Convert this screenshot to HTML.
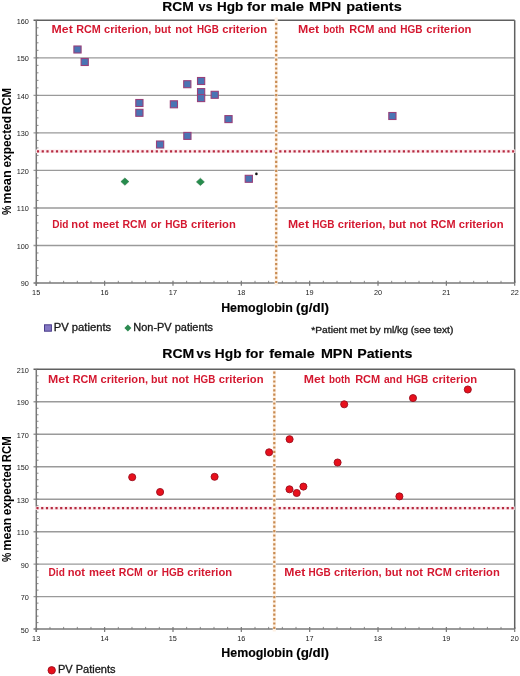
<!DOCTYPE html>
<html><head><meta charset="utf-8"><title>RCM vs Hgb</title>
<style>html,body{margin:0;padding:0;background:#fff;width:520px;height:676px;overflow:hidden}svg{display:block;filter:blur(0.3px)}</style>
</head><body>
<svg width="520" height="676" viewBox="0 0 520 676" font-family='"Liberation Sans", sans-serif' style="font-kerning:none">
<rect width="520" height="676" fill="#fff"/>
<line x1="33.50" y1="245.47" x2="514.70" y2="245.47" stroke="#9a9a9a" stroke-width="1.4"/>
<line x1="33.50" y1="207.94" x2="514.70" y2="207.94" stroke="#9a9a9a" stroke-width="1.4"/>
<line x1="33.50" y1="170.41" x2="514.70" y2="170.41" stroke="#9a9a9a" stroke-width="1.4"/>
<line x1="33.50" y1="132.89" x2="514.70" y2="132.89" stroke="#9a9a9a" stroke-width="1.4"/>
<line x1="33.50" y1="95.36" x2="514.70" y2="95.36" stroke="#9a9a9a" stroke-width="1.4"/>
<line x1="33.50" y1="57.83" x2="514.70" y2="57.83" stroke="#9a9a9a" stroke-width="1.4"/>
<line x1="36.30" y1="283.00" x2="38.50" y2="283.00" stroke="#8a8a8a" stroke-width="1"/>
<line x1="36.30" y1="275.49" x2="38.50" y2="275.49" stroke="#8a8a8a" stroke-width="1"/>
<line x1="36.30" y1="267.99" x2="38.50" y2="267.99" stroke="#8a8a8a" stroke-width="1"/>
<line x1="36.30" y1="260.48" x2="38.50" y2="260.48" stroke="#8a8a8a" stroke-width="1"/>
<line x1="36.30" y1="252.98" x2="38.50" y2="252.98" stroke="#8a8a8a" stroke-width="1"/>
<line x1="36.30" y1="245.47" x2="38.50" y2="245.47" stroke="#8a8a8a" stroke-width="1"/>
<line x1="36.30" y1="237.97" x2="38.50" y2="237.97" stroke="#8a8a8a" stroke-width="1"/>
<line x1="36.30" y1="230.46" x2="38.50" y2="230.46" stroke="#8a8a8a" stroke-width="1"/>
<line x1="36.30" y1="222.95" x2="38.50" y2="222.95" stroke="#8a8a8a" stroke-width="1"/>
<line x1="36.30" y1="215.45" x2="38.50" y2="215.45" stroke="#8a8a8a" stroke-width="1"/>
<line x1="36.30" y1="207.94" x2="38.50" y2="207.94" stroke="#8a8a8a" stroke-width="1"/>
<line x1="36.30" y1="200.44" x2="38.50" y2="200.44" stroke="#8a8a8a" stroke-width="1"/>
<line x1="36.30" y1="192.93" x2="38.50" y2="192.93" stroke="#8a8a8a" stroke-width="1"/>
<line x1="36.30" y1="185.43" x2="38.50" y2="185.43" stroke="#8a8a8a" stroke-width="1"/>
<line x1="36.30" y1="177.92" x2="38.50" y2="177.92" stroke="#8a8a8a" stroke-width="1"/>
<line x1="36.30" y1="170.41" x2="38.50" y2="170.41" stroke="#8a8a8a" stroke-width="1"/>
<line x1="36.30" y1="162.91" x2="38.50" y2="162.91" stroke="#8a8a8a" stroke-width="1"/>
<line x1="36.30" y1="155.40" x2="38.50" y2="155.40" stroke="#8a8a8a" stroke-width="1"/>
<line x1="36.30" y1="147.90" x2="38.50" y2="147.90" stroke="#8a8a8a" stroke-width="1"/>
<line x1="36.30" y1="140.39" x2="38.50" y2="140.39" stroke="#8a8a8a" stroke-width="1"/>
<line x1="36.30" y1="132.89" x2="38.50" y2="132.89" stroke="#8a8a8a" stroke-width="1"/>
<line x1="36.30" y1="125.38" x2="38.50" y2="125.38" stroke="#8a8a8a" stroke-width="1"/>
<line x1="36.30" y1="117.87" x2="38.50" y2="117.87" stroke="#8a8a8a" stroke-width="1"/>
<line x1="36.30" y1="110.37" x2="38.50" y2="110.37" stroke="#8a8a8a" stroke-width="1"/>
<line x1="36.30" y1="102.86" x2="38.50" y2="102.86" stroke="#8a8a8a" stroke-width="1"/>
<line x1="36.30" y1="95.36" x2="38.50" y2="95.36" stroke="#8a8a8a" stroke-width="1"/>
<line x1="36.30" y1="87.85" x2="38.50" y2="87.85" stroke="#8a8a8a" stroke-width="1"/>
<line x1="36.30" y1="80.35" x2="38.50" y2="80.35" stroke="#8a8a8a" stroke-width="1"/>
<line x1="36.30" y1="72.84" x2="38.50" y2="72.84" stroke="#8a8a8a" stroke-width="1"/>
<line x1="36.30" y1="65.33" x2="38.50" y2="65.33" stroke="#8a8a8a" stroke-width="1"/>
<line x1="36.30" y1="57.83" x2="38.50" y2="57.83" stroke="#8a8a8a" stroke-width="1"/>
<line x1="36.30" y1="50.32" x2="38.50" y2="50.32" stroke="#8a8a8a" stroke-width="1"/>
<line x1="36.30" y1="42.82" x2="38.50" y2="42.82" stroke="#8a8a8a" stroke-width="1"/>
<line x1="36.30" y1="35.31" x2="38.50" y2="35.31" stroke="#8a8a8a" stroke-width="1"/>
<line x1="36.30" y1="27.81" x2="38.50" y2="27.81" stroke="#8a8a8a" stroke-width="1"/>
<line x1="36.30" y1="20.30" x2="38.50" y2="20.30" stroke="#8a8a8a" stroke-width="1"/>
<line x1="36.30" y1="280.80" x2="36.30" y2="285.80" stroke="#787878" stroke-width="1.2"/>
<line x1="49.97" y1="280.80" x2="49.97" y2="283.00" stroke="#8a8a8a" stroke-width="1"/>
<line x1="63.64" y1="280.80" x2="63.64" y2="283.00" stroke="#8a8a8a" stroke-width="1"/>
<line x1="77.31" y1="280.80" x2="77.31" y2="283.00" stroke="#8a8a8a" stroke-width="1"/>
<line x1="90.97" y1="280.80" x2="90.97" y2="283.00" stroke="#8a8a8a" stroke-width="1"/>
<line x1="104.64" y1="280.80" x2="104.64" y2="285.80" stroke="#787878" stroke-width="1.2"/>
<line x1="118.31" y1="280.80" x2="118.31" y2="283.00" stroke="#8a8a8a" stroke-width="1"/>
<line x1="131.98" y1="280.80" x2="131.98" y2="283.00" stroke="#8a8a8a" stroke-width="1"/>
<line x1="145.65" y1="280.80" x2="145.65" y2="283.00" stroke="#8a8a8a" stroke-width="1"/>
<line x1="159.32" y1="280.80" x2="159.32" y2="283.00" stroke="#8a8a8a" stroke-width="1"/>
<line x1="172.99" y1="280.80" x2="172.99" y2="285.80" stroke="#787878" stroke-width="1.2"/>
<line x1="186.65" y1="280.80" x2="186.65" y2="283.00" stroke="#8a8a8a" stroke-width="1"/>
<line x1="200.32" y1="280.80" x2="200.32" y2="283.00" stroke="#8a8a8a" stroke-width="1"/>
<line x1="213.99" y1="280.80" x2="213.99" y2="283.00" stroke="#8a8a8a" stroke-width="1"/>
<line x1="227.66" y1="280.80" x2="227.66" y2="283.00" stroke="#8a8a8a" stroke-width="1"/>
<line x1="241.33" y1="280.80" x2="241.33" y2="285.80" stroke="#787878" stroke-width="1.2"/>
<line x1="255.00" y1="280.80" x2="255.00" y2="283.00" stroke="#8a8a8a" stroke-width="1"/>
<line x1="268.67" y1="280.80" x2="268.67" y2="283.00" stroke="#8a8a8a" stroke-width="1"/>
<line x1="282.33" y1="280.80" x2="282.33" y2="283.00" stroke="#8a8a8a" stroke-width="1"/>
<line x1="296.00" y1="280.80" x2="296.00" y2="283.00" stroke="#8a8a8a" stroke-width="1"/>
<line x1="309.67" y1="280.80" x2="309.67" y2="285.80" stroke="#787878" stroke-width="1.2"/>
<line x1="323.34" y1="280.80" x2="323.34" y2="283.00" stroke="#8a8a8a" stroke-width="1"/>
<line x1="337.01" y1="280.80" x2="337.01" y2="283.00" stroke="#8a8a8a" stroke-width="1"/>
<line x1="350.68" y1="280.80" x2="350.68" y2="283.00" stroke="#8a8a8a" stroke-width="1"/>
<line x1="364.35" y1="280.80" x2="364.35" y2="283.00" stroke="#8a8a8a" stroke-width="1"/>
<line x1="378.01" y1="280.80" x2="378.01" y2="285.80" stroke="#787878" stroke-width="1.2"/>
<line x1="391.68" y1="280.80" x2="391.68" y2="283.00" stroke="#8a8a8a" stroke-width="1"/>
<line x1="405.35" y1="280.80" x2="405.35" y2="283.00" stroke="#8a8a8a" stroke-width="1"/>
<line x1="419.02" y1="280.80" x2="419.02" y2="283.00" stroke="#8a8a8a" stroke-width="1"/>
<line x1="432.69" y1="280.80" x2="432.69" y2="283.00" stroke="#8a8a8a" stroke-width="1"/>
<line x1="446.36" y1="280.80" x2="446.36" y2="285.80" stroke="#787878" stroke-width="1.2"/>
<line x1="460.03" y1="280.80" x2="460.03" y2="283.00" stroke="#8a8a8a" stroke-width="1"/>
<line x1="473.69" y1="280.80" x2="473.69" y2="283.00" stroke="#8a8a8a" stroke-width="1"/>
<line x1="487.36" y1="280.80" x2="487.36" y2="283.00" stroke="#8a8a8a" stroke-width="1"/>
<line x1="501.03" y1="280.80" x2="501.03" y2="283.00" stroke="#8a8a8a" stroke-width="1"/>
<line x1="514.70" y1="280.80" x2="514.70" y2="285.80" stroke="#787878" stroke-width="1.2"/>
<line x1="33.50" y1="20.15" x2="514.70" y2="20.15" stroke="#606060" stroke-width="1.5"/>
<line x1="514.70" y1="20.30" x2="514.70" y2="283.00" stroke="#606060" stroke-width="1.5"/>
<line x1="33.50" y1="283.00" x2="514.70" y2="283.00" stroke="#787878" stroke-width="1.5"/>
<line x1="36.30" y1="20.30" x2="36.30" y2="285.80" stroke="#787878" stroke-width="1.5"/>
<text x="20.77" y="286.41" font-size="7.3" fill="#222">90</text>
<text x="16.71" y="248.88" font-size="7.3" fill="#222">100</text>
<text x="16.71" y="211.35" font-size="7.3" fill="#222">110</text>
<text x="16.71" y="173.83" font-size="7.3" fill="#222">120</text>
<text x="16.71" y="136.30" font-size="7.3" fill="#222">130</text>
<text x="16.71" y="98.77" font-size="7.3" fill="#222">140</text>
<text x="16.71" y="61.24" font-size="7.3" fill="#222">150</text>
<text x="16.71" y="23.71" font-size="7.3" fill="#222">160</text>
<text x="32.12" y="295.11" font-size="7.3" fill="#222">15</text>
<text x="100.47" y="295.11" font-size="7.3" fill="#222">16</text>
<text x="168.83" y="295.11" font-size="7.3" fill="#222">17</text>
<text x="237.15" y="295.11" font-size="7.3" fill="#222">18</text>
<text x="305.51" y="295.11" font-size="7.3" fill="#222">19</text>
<text x="373.91" y="295.11" font-size="7.3" fill="#222">20</text>
<text x="442.29" y="295.11" font-size="7.3" fill="#222">21</text>
<text x="510.64" y="295.11" font-size="7.3" fill="#222">22</text>
<text x="51.58" y="32.70" font-size="10.3" font-weight="bold" fill="#d41830" textLength="21.17" lengthAdjust="spacingAndGlyphs">Met</text>
<text x="76.18" y="32.70" font-size="10.3" font-weight="bold" fill="#d41830" textLength="24.65" lengthAdjust="spacingAndGlyphs">RCM</text>
<text x="103.97" y="32.70" font-size="10.3" font-weight="bold" fill="#d41830" textLength="47.48" lengthAdjust="spacingAndGlyphs">criterion,</text>
<text x="154.50" y="32.70" font-size="10.3" font-weight="bold" fill="#d41830" textLength="16.53" lengthAdjust="spacingAndGlyphs">but</text>
<text x="175.27" y="32.70" font-size="10.3" font-weight="bold" fill="#d41830" textLength="17.16" lengthAdjust="spacingAndGlyphs">not</text>
<text x="196.94" y="32.70" font-size="10.3" font-weight="bold" fill="#d41830" textLength="21.80" lengthAdjust="spacingAndGlyphs">HGB</text>
<text x="222.16" y="32.70" font-size="10.3" font-weight="bold" fill="#d41830" textLength="44.83" lengthAdjust="spacingAndGlyphs">criterion</text>
<text x="297.98" y="32.70" font-size="10.3" font-weight="bold" fill="#d41830" textLength="21.17" lengthAdjust="spacingAndGlyphs">Met</text>
<text x="323.15" y="32.70" font-size="10.3" font-weight="bold" fill="#d41830" textLength="21.26" lengthAdjust="spacingAndGlyphs">both</text>
<text x="349.36" y="32.70" font-size="10.3" font-weight="bold" fill="#d41830" textLength="25.07" lengthAdjust="spacingAndGlyphs">RCM</text>
<text x="378.10" y="32.70" font-size="10.3" font-weight="bold" fill="#d41830" textLength="18.28" lengthAdjust="spacingAndGlyphs">and</text>
<text x="400.33" y="32.70" font-size="10.3" font-weight="bold" fill="#d41830" textLength="22.22" lengthAdjust="spacingAndGlyphs">HGB</text>
<text x="426.36" y="32.70" font-size="10.3" font-weight="bold" fill="#d41830" textLength="45.04" lengthAdjust="spacingAndGlyphs">criterion</text>
<text x="52.23" y="227.90" font-size="10.3" font-weight="bold" fill="#d41830" textLength="16.24" lengthAdjust="spacingAndGlyphs">Did</text>
<text x="71.37" y="227.90" font-size="10.3" font-weight="bold" fill="#d41830" textLength="17.27" lengthAdjust="spacingAndGlyphs">not</text>
<text x="92.66" y="227.90" font-size="10.3" font-weight="bold" fill="#d41830" textLength="26.28" lengthAdjust="spacingAndGlyphs">meet</text>
<text x="122.49" y="227.90" font-size="10.3" font-weight="bold" fill="#d41830" textLength="24.01" lengthAdjust="spacingAndGlyphs">RCM</text>
<text x="150.68" y="227.90" font-size="10.3" font-weight="bold" fill="#d41830" textLength="10.68" lengthAdjust="spacingAndGlyphs">or</text>
<text x="165.33" y="227.90" font-size="10.3" font-weight="bold" fill="#d41830" textLength="22.22" lengthAdjust="spacingAndGlyphs">HGB</text>
<text x="190.96" y="227.90" font-size="10.3" font-weight="bold" fill="#d41830" textLength="44.83" lengthAdjust="spacingAndGlyphs">criterion</text>
<text x="287.99" y="227.90" font-size="10.3" font-weight="bold" fill="#d41830" textLength="20.96" lengthAdjust="spacingAndGlyphs">Met</text>
<text x="312.23" y="227.90" font-size="10.3" font-weight="bold" fill="#d41830" textLength="22.12" lengthAdjust="spacingAndGlyphs">HGB</text>
<text x="337.77" y="227.90" font-size="10.3" font-weight="bold" fill="#d41830" textLength="47.58" lengthAdjust="spacingAndGlyphs">criterion,</text>
<text x="388.67" y="227.90" font-size="10.3" font-weight="bold" fill="#d41830" textLength="17.27" lengthAdjust="spacingAndGlyphs">but</text>
<text x="409.57" y="227.90" font-size="10.3" font-weight="bold" fill="#d41830" textLength="17.16" lengthAdjust="spacingAndGlyphs">not</text>
<text x="430.67" y="227.90" font-size="10.3" font-weight="bold" fill="#d41830" textLength="24.86" lengthAdjust="spacingAndGlyphs">RCM</text>
<text x="458.66" y="227.90" font-size="10.3" font-weight="bold" fill="#d41830" textLength="44.83" lengthAdjust="spacingAndGlyphs">criterion</text>
<line x1="35.80" y1="151.30" x2="515.40" y2="151.30" stroke="#fcebee" stroke-width="3.6"/>
<line x1="36.90" y1="151.30" x2="514.30" y2="151.30" stroke="#b52a40" stroke-width="2.2" stroke-dasharray="2.2 2.552"/>
<line x1="276.20" y1="17.50" x2="276.20" y2="285.50" stroke="#fef1e4" stroke-width="3.2"/>
<line x1="276.20" y1="22.95" x2="276.20" y2="283.08" stroke="#c88a50" stroke-width="2.2" stroke-dasharray="2.2 2.247"/>
<rect x="73.90" y="46.00" width="7.2" height="7" fill="#4a74b4" stroke="#98407a" stroke-width="1.1"/>
<rect x="81.10" y="58.50" width="7.2" height="7" fill="#4a74b4" stroke="#98407a" stroke-width="1.1"/>
<rect x="135.80" y="99.50" width="7.2" height="7" fill="#4a74b4" stroke="#98407a" stroke-width="1.1"/>
<rect x="135.80" y="109.30" width="7.2" height="7" fill="#4a74b4" stroke="#98407a" stroke-width="1.1"/>
<rect x="170.30" y="100.80" width="7.2" height="7" fill="#4a74b4" stroke="#98407a" stroke-width="1.1"/>
<rect x="183.70" y="80.70" width="7.2" height="7" fill="#4a74b4" stroke="#98407a" stroke-width="1.1"/>
<rect x="197.50" y="77.50" width="7.2" height="7" fill="#4a74b4" stroke="#98407a" stroke-width="1.1"/>
<rect x="197.50" y="88.60" width="7.2" height="7" fill="#4a74b4" stroke="#98407a" stroke-width="1.1"/>
<rect x="197.50" y="94.60" width="7.2" height="7" fill="#4a74b4" stroke="#98407a" stroke-width="1.1"/>
<rect x="211.10" y="91.30" width="7.2" height="7" fill="#4a74b4" stroke="#98407a" stroke-width="1.1"/>
<rect x="224.90" y="115.60" width="7.2" height="7" fill="#4a74b4" stroke="#98407a" stroke-width="1.1"/>
<rect x="183.80" y="132.40" width="7.2" height="7" fill="#4a74b4" stroke="#98407a" stroke-width="1.1"/>
<rect x="156.50" y="141.00" width="7.2" height="7" fill="#4a74b4" stroke="#98407a" stroke-width="1.1"/>
<rect x="245.20" y="175.30" width="7.2" height="7" fill="#4a74b4" stroke="#98407a" stroke-width="1.1"/>
<rect x="388.80" y="112.50" width="7.2" height="7" fill="#4a74b4" stroke="#98407a" stroke-width="1.1"/>
<path d="M124.90 177.90 L128.90 181.60 L124.90 185.30 L120.90 181.60Z" fill="#268c4c" stroke="#1e6e3c" stroke-width="0.5"/>
<path d="M200.40 178.20 L204.40 181.90 L200.40 185.60 L196.40 181.90Z" fill="#268c4c" stroke="#1e6e3c" stroke-width="0.5"/>
<circle cx="256.4" cy="173.9" r="1.3" fill="#111"/>
<text x="162.28" y="10.90" font-size="13.4" font-weight="bold" fill="#000" textLength="31.45" lengthAdjust="spacingAndGlyphs" stroke="#000" stroke-width="0.15">RCM</text>
<text x="198.55" y="10.90" font-size="13.4" font-weight="bold" fill="#000" textLength="14.07" lengthAdjust="spacingAndGlyphs" stroke="#000" stroke-width="0.15">vs</text>
<text x="216.90" y="10.90" font-size="13.4" font-weight="bold" fill="#000" textLength="26.26" lengthAdjust="spacingAndGlyphs" stroke="#000" stroke-width="0.15">Hgb</text>
<text x="247.05" y="10.90" font-size="13.4" font-weight="bold" fill="#000" textLength="19.16" lengthAdjust="spacingAndGlyphs" stroke="#000" stroke-width="0.15">for</text>
<text x="270.33" y="10.90" font-size="13.4" font-weight="bold" fill="#000" textLength="33.68" lengthAdjust="spacingAndGlyphs" stroke="#000" stroke-width="0.15">male</text>
<text x="309.13" y="10.90" font-size="13.4" font-weight="bold" fill="#000" textLength="32.14" lengthAdjust="spacingAndGlyphs" stroke="#000" stroke-width="0.15">MPN</text>
<text x="346.25" y="10.90" font-size="13.4" font-weight="bold" fill="#000" textLength="55.45" lengthAdjust="spacingAndGlyphs" stroke="#000" stroke-width="0.15">patients</text>
<text transform="translate(10.90,0) rotate(-90)" x="-214.96" y="0" font-size="13" font-weight="bold" fill="#000" textLength="9.34" lengthAdjust="spacingAndGlyphs">%</text>
<text transform="translate(10.90,0) rotate(-90)" x="-203.64" y="0" font-size="13" font-weight="bold" fill="#000" textLength="33.44" lengthAdjust="spacingAndGlyphs">mean</text>
<text transform="translate(10.90,0) rotate(-90)" x="-167.56" y="0" font-size="13" font-weight="bold" fill="#000" textLength="51.55" lengthAdjust="spacingAndGlyphs">expected</text>
<text transform="translate(10.90,0) rotate(-90)" x="-114.17" y="0" font-size="13" font-weight="bold" fill="#000" textLength="26.24" lengthAdjust="spacingAndGlyphs">RCM</text>
<text x="221.17" y="312.30" font-size="12.3" font-weight="bold" fill="#000" textLength="71.70" lengthAdjust="spacingAndGlyphs" stroke="#000" stroke-width="0.15">Hemoglobin</text>
<text x="296.13" y="312.30" font-size="12.3" font-weight="bold" fill="#000" textLength="32.73" lengthAdjust="spacingAndGlyphs" stroke="#000" stroke-width="0.15">(g/dl)</text>
<rect x="44.5" y="324.8" width="6.9" height="6.4" fill="#8478c4" stroke="#4a3c8a" stroke-width="1"/>
<text x="53.68" y="330.80" font-size="10" fill="#1a1a1a" textLength="57.53" lengthAdjust="spacingAndGlyphs" stroke="#1a1a1a" stroke-width="0.3">PV patients</text>
<path d="M127.9 324.4 L131.4 327.9 L127.9 331.4 L124.4 327.9Z" fill="#2c8a50"/>
<text x="133.30" y="330.80" font-size="10" fill="#1a1a1a" textLength="79.79" lengthAdjust="spacingAndGlyphs" stroke="#1a1a1a" stroke-width="0.3">Non-PV patients</text>
<text x="311.34" y="332.60" font-size="8.8" fill="#1a1a1a" textLength="142.00" lengthAdjust="spacingAndGlyphs" stroke="#1a1a1a" stroke-width="0.3">*Patient met by ml/kg (see text)</text>
<line x1="33.50" y1="596.62" x2="514.70" y2="596.62" stroke="#9a9a9a" stroke-width="1.4"/>
<line x1="33.50" y1="564.15" x2="514.70" y2="564.15" stroke="#9a9a9a" stroke-width="1.4"/>
<line x1="33.50" y1="531.68" x2="514.70" y2="531.68" stroke="#9a9a9a" stroke-width="1.4"/>
<line x1="33.50" y1="499.20" x2="514.70" y2="499.20" stroke="#9a9a9a" stroke-width="1.4"/>
<line x1="33.50" y1="466.73" x2="514.70" y2="466.73" stroke="#9a9a9a" stroke-width="1.4"/>
<line x1="33.50" y1="434.25" x2="514.70" y2="434.25" stroke="#9a9a9a" stroke-width="1.4"/>
<line x1="33.50" y1="401.78" x2="514.70" y2="401.78" stroke="#9a9a9a" stroke-width="1.4"/>
<line x1="36.30" y1="629.10" x2="38.50" y2="629.10" stroke="#8a8a8a" stroke-width="1"/>
<line x1="36.30" y1="622.61" x2="38.50" y2="622.61" stroke="#8a8a8a" stroke-width="1"/>
<line x1="36.30" y1="616.11" x2="38.50" y2="616.11" stroke="#8a8a8a" stroke-width="1"/>
<line x1="36.30" y1="609.62" x2="38.50" y2="609.62" stroke="#8a8a8a" stroke-width="1"/>
<line x1="36.30" y1="603.12" x2="38.50" y2="603.12" stroke="#8a8a8a" stroke-width="1"/>
<line x1="36.30" y1="596.62" x2="38.50" y2="596.62" stroke="#8a8a8a" stroke-width="1"/>
<line x1="36.30" y1="590.13" x2="38.50" y2="590.13" stroke="#8a8a8a" stroke-width="1"/>
<line x1="36.30" y1="583.63" x2="38.50" y2="583.63" stroke="#8a8a8a" stroke-width="1"/>
<line x1="36.30" y1="577.14" x2="38.50" y2="577.14" stroke="#8a8a8a" stroke-width="1"/>
<line x1="36.30" y1="570.64" x2="38.50" y2="570.64" stroke="#8a8a8a" stroke-width="1"/>
<line x1="36.30" y1="564.15" x2="38.50" y2="564.15" stroke="#8a8a8a" stroke-width="1"/>
<line x1="36.30" y1="557.65" x2="38.50" y2="557.65" stroke="#8a8a8a" stroke-width="1"/>
<line x1="36.30" y1="551.16" x2="38.50" y2="551.16" stroke="#8a8a8a" stroke-width="1"/>
<line x1="36.30" y1="544.66" x2="38.50" y2="544.66" stroke="#8a8a8a" stroke-width="1"/>
<line x1="36.30" y1="538.17" x2="38.50" y2="538.17" stroke="#8a8a8a" stroke-width="1"/>
<line x1="36.30" y1="531.68" x2="38.50" y2="531.68" stroke="#8a8a8a" stroke-width="1"/>
<line x1="36.30" y1="525.18" x2="38.50" y2="525.18" stroke="#8a8a8a" stroke-width="1"/>
<line x1="36.30" y1="518.69" x2="38.50" y2="518.69" stroke="#8a8a8a" stroke-width="1"/>
<line x1="36.30" y1="512.19" x2="38.50" y2="512.19" stroke="#8a8a8a" stroke-width="1"/>
<line x1="36.30" y1="505.70" x2="38.50" y2="505.70" stroke="#8a8a8a" stroke-width="1"/>
<line x1="36.30" y1="499.20" x2="38.50" y2="499.20" stroke="#8a8a8a" stroke-width="1"/>
<line x1="36.30" y1="492.71" x2="38.50" y2="492.71" stroke="#8a8a8a" stroke-width="1"/>
<line x1="36.30" y1="486.21" x2="38.50" y2="486.21" stroke="#8a8a8a" stroke-width="1"/>
<line x1="36.30" y1="479.72" x2="38.50" y2="479.72" stroke="#8a8a8a" stroke-width="1"/>
<line x1="36.30" y1="473.22" x2="38.50" y2="473.22" stroke="#8a8a8a" stroke-width="1"/>
<line x1="36.30" y1="466.73" x2="38.50" y2="466.73" stroke="#8a8a8a" stroke-width="1"/>
<line x1="36.30" y1="460.23" x2="38.50" y2="460.23" stroke="#8a8a8a" stroke-width="1"/>
<line x1="36.30" y1="453.74" x2="38.50" y2="453.74" stroke="#8a8a8a" stroke-width="1"/>
<line x1="36.30" y1="447.24" x2="38.50" y2="447.24" stroke="#8a8a8a" stroke-width="1"/>
<line x1="36.30" y1="440.75" x2="38.50" y2="440.75" stroke="#8a8a8a" stroke-width="1"/>
<line x1="36.30" y1="434.25" x2="38.50" y2="434.25" stroke="#8a8a8a" stroke-width="1"/>
<line x1="36.30" y1="427.75" x2="38.50" y2="427.75" stroke="#8a8a8a" stroke-width="1"/>
<line x1="36.30" y1="421.26" x2="38.50" y2="421.26" stroke="#8a8a8a" stroke-width="1"/>
<line x1="36.30" y1="414.77" x2="38.50" y2="414.77" stroke="#8a8a8a" stroke-width="1"/>
<line x1="36.30" y1="408.27" x2="38.50" y2="408.27" stroke="#8a8a8a" stroke-width="1"/>
<line x1="36.30" y1="401.78" x2="38.50" y2="401.78" stroke="#8a8a8a" stroke-width="1"/>
<line x1="36.30" y1="395.28" x2="38.50" y2="395.28" stroke="#8a8a8a" stroke-width="1"/>
<line x1="36.30" y1="388.79" x2="38.50" y2="388.79" stroke="#8a8a8a" stroke-width="1"/>
<line x1="36.30" y1="382.29" x2="38.50" y2="382.29" stroke="#8a8a8a" stroke-width="1"/>
<line x1="36.30" y1="375.80" x2="38.50" y2="375.80" stroke="#8a8a8a" stroke-width="1"/>
<line x1="36.30" y1="369.30" x2="38.50" y2="369.30" stroke="#8a8a8a" stroke-width="1"/>
<line x1="36.30" y1="626.90" x2="36.30" y2="631.90" stroke="#787878" stroke-width="1.2"/>
<line x1="49.97" y1="626.90" x2="49.97" y2="629.10" stroke="#8a8a8a" stroke-width="1"/>
<line x1="63.64" y1="626.90" x2="63.64" y2="629.10" stroke="#8a8a8a" stroke-width="1"/>
<line x1="77.31" y1="626.90" x2="77.31" y2="629.10" stroke="#8a8a8a" stroke-width="1"/>
<line x1="90.97" y1="626.90" x2="90.97" y2="629.10" stroke="#8a8a8a" stroke-width="1"/>
<line x1="104.64" y1="626.90" x2="104.64" y2="631.90" stroke="#787878" stroke-width="1.2"/>
<line x1="118.31" y1="626.90" x2="118.31" y2="629.10" stroke="#8a8a8a" stroke-width="1"/>
<line x1="131.98" y1="626.90" x2="131.98" y2="629.10" stroke="#8a8a8a" stroke-width="1"/>
<line x1="145.65" y1="626.90" x2="145.65" y2="629.10" stroke="#8a8a8a" stroke-width="1"/>
<line x1="159.32" y1="626.90" x2="159.32" y2="629.10" stroke="#8a8a8a" stroke-width="1"/>
<line x1="172.99" y1="626.90" x2="172.99" y2="631.90" stroke="#787878" stroke-width="1.2"/>
<line x1="186.65" y1="626.90" x2="186.65" y2="629.10" stroke="#8a8a8a" stroke-width="1"/>
<line x1="200.32" y1="626.90" x2="200.32" y2="629.10" stroke="#8a8a8a" stroke-width="1"/>
<line x1="213.99" y1="626.90" x2="213.99" y2="629.10" stroke="#8a8a8a" stroke-width="1"/>
<line x1="227.66" y1="626.90" x2="227.66" y2="629.10" stroke="#8a8a8a" stroke-width="1"/>
<line x1="241.33" y1="626.90" x2="241.33" y2="631.90" stroke="#787878" stroke-width="1.2"/>
<line x1="255.00" y1="626.90" x2="255.00" y2="629.10" stroke="#8a8a8a" stroke-width="1"/>
<line x1="268.67" y1="626.90" x2="268.67" y2="629.10" stroke="#8a8a8a" stroke-width="1"/>
<line x1="282.33" y1="626.90" x2="282.33" y2="629.10" stroke="#8a8a8a" stroke-width="1"/>
<line x1="296.00" y1="626.90" x2="296.00" y2="629.10" stroke="#8a8a8a" stroke-width="1"/>
<line x1="309.67" y1="626.90" x2="309.67" y2="631.90" stroke="#787878" stroke-width="1.2"/>
<line x1="323.34" y1="626.90" x2="323.34" y2="629.10" stroke="#8a8a8a" stroke-width="1"/>
<line x1="337.01" y1="626.90" x2="337.01" y2="629.10" stroke="#8a8a8a" stroke-width="1"/>
<line x1="350.68" y1="626.90" x2="350.68" y2="629.10" stroke="#8a8a8a" stroke-width="1"/>
<line x1="364.35" y1="626.90" x2="364.35" y2="629.10" stroke="#8a8a8a" stroke-width="1"/>
<line x1="378.01" y1="626.90" x2="378.01" y2="631.90" stroke="#787878" stroke-width="1.2"/>
<line x1="391.68" y1="626.90" x2="391.68" y2="629.10" stroke="#8a8a8a" stroke-width="1"/>
<line x1="405.35" y1="626.90" x2="405.35" y2="629.10" stroke="#8a8a8a" stroke-width="1"/>
<line x1="419.02" y1="626.90" x2="419.02" y2="629.10" stroke="#8a8a8a" stroke-width="1"/>
<line x1="432.69" y1="626.90" x2="432.69" y2="629.10" stroke="#8a8a8a" stroke-width="1"/>
<line x1="446.36" y1="626.90" x2="446.36" y2="631.90" stroke="#787878" stroke-width="1.2"/>
<line x1="460.03" y1="626.90" x2="460.03" y2="629.10" stroke="#8a8a8a" stroke-width="1"/>
<line x1="473.69" y1="626.90" x2="473.69" y2="629.10" stroke="#8a8a8a" stroke-width="1"/>
<line x1="487.36" y1="626.90" x2="487.36" y2="629.10" stroke="#8a8a8a" stroke-width="1"/>
<line x1="501.03" y1="626.90" x2="501.03" y2="629.10" stroke="#8a8a8a" stroke-width="1"/>
<line x1="514.70" y1="626.90" x2="514.70" y2="631.90" stroke="#787878" stroke-width="1.2"/>
<line x1="33.50" y1="369.30" x2="514.70" y2="369.30" stroke="#606060" stroke-width="1.5"/>
<line x1="514.70" y1="369.30" x2="514.70" y2="629.10" stroke="#606060" stroke-width="1.5"/>
<line x1="33.50" y1="629.10" x2="514.70" y2="629.10" stroke="#787878" stroke-width="1.5"/>
<line x1="36.30" y1="369.30" x2="36.30" y2="631.90" stroke="#787878" stroke-width="1.5"/>
<text x="20.77" y="632.51" font-size="7.3" fill="#222">50</text>
<text x="20.77" y="600.04" font-size="7.3" fill="#222">70</text>
<text x="20.77" y="567.56" font-size="7.3" fill="#222">90</text>
<text x="16.71" y="535.09" font-size="7.3" fill="#222">110</text>
<text x="16.71" y="502.61" font-size="7.3" fill="#222">130</text>
<text x="16.71" y="470.14" font-size="7.3" fill="#222">150</text>
<text x="16.71" y="437.66" font-size="7.3" fill="#222">170</text>
<text x="16.71" y="405.19" font-size="7.3" fill="#222">190</text>
<text x="16.71" y="372.71" font-size="7.3" fill="#222">210</text>
<text x="32.12" y="641.11" font-size="7.3" fill="#222">13</text>
<text x="100.41" y="641.11" font-size="7.3" fill="#222">14</text>
<text x="168.80" y="641.11" font-size="7.3" fill="#222">15</text>
<text x="237.15" y="641.11" font-size="7.3" fill="#222">16</text>
<text x="305.52" y="641.11" font-size="7.3" fill="#222">17</text>
<text x="373.83" y="641.11" font-size="7.3" fill="#222">18</text>
<text x="442.19" y="641.11" font-size="7.3" fill="#222">19</text>
<text x="510.60" y="641.11" font-size="7.3" fill="#222">20</text>
<text x="48.13" y="383.30" font-size="10.3" font-weight="bold" fill="#d41830" textLength="21.17" lengthAdjust="spacingAndGlyphs">Met</text>
<text x="72.73" y="383.30" font-size="10.3" font-weight="bold" fill="#d41830" textLength="24.65" lengthAdjust="spacingAndGlyphs">RCM</text>
<text x="100.52" y="383.30" font-size="10.3" font-weight="bold" fill="#d41830" textLength="47.48" lengthAdjust="spacingAndGlyphs">criterion,</text>
<text x="151.05" y="383.30" font-size="10.3" font-weight="bold" fill="#d41830" textLength="16.53" lengthAdjust="spacingAndGlyphs">but</text>
<text x="171.82" y="383.30" font-size="10.3" font-weight="bold" fill="#d41830" textLength="17.16" lengthAdjust="spacingAndGlyphs">not</text>
<text x="193.49" y="383.30" font-size="10.3" font-weight="bold" fill="#d41830" textLength="21.80" lengthAdjust="spacingAndGlyphs">HGB</text>
<text x="218.71" y="383.30" font-size="10.3" font-weight="bold" fill="#d41830" textLength="44.83" lengthAdjust="spacingAndGlyphs">criterion</text>
<text x="303.78" y="383.30" font-size="10.3" font-weight="bold" fill="#d41830" textLength="21.17" lengthAdjust="spacingAndGlyphs">Met</text>
<text x="328.95" y="383.30" font-size="10.3" font-weight="bold" fill="#d41830" textLength="21.26" lengthAdjust="spacingAndGlyphs">both</text>
<text x="355.16" y="383.30" font-size="10.3" font-weight="bold" fill="#d41830" textLength="25.07" lengthAdjust="spacingAndGlyphs">RCM</text>
<text x="383.90" y="383.30" font-size="10.3" font-weight="bold" fill="#d41830" textLength="18.28" lengthAdjust="spacingAndGlyphs">and</text>
<text x="406.13" y="383.30" font-size="10.3" font-weight="bold" fill="#d41830" textLength="22.22" lengthAdjust="spacingAndGlyphs">HGB</text>
<text x="432.16" y="383.30" font-size="10.3" font-weight="bold" fill="#d41830" textLength="45.04" lengthAdjust="spacingAndGlyphs">criterion</text>
<text x="48.58" y="575.60" font-size="10.3" font-weight="bold" fill="#d41830" textLength="16.24" lengthAdjust="spacingAndGlyphs">Did</text>
<text x="67.72" y="575.60" font-size="10.3" font-weight="bold" fill="#d41830" textLength="17.27" lengthAdjust="spacingAndGlyphs">not</text>
<text x="89.01" y="575.60" font-size="10.3" font-weight="bold" fill="#d41830" textLength="26.28" lengthAdjust="spacingAndGlyphs">meet</text>
<text x="118.84" y="575.60" font-size="10.3" font-weight="bold" fill="#d41830" textLength="24.01" lengthAdjust="spacingAndGlyphs">RCM</text>
<text x="147.03" y="575.60" font-size="10.3" font-weight="bold" fill="#d41830" textLength="10.68" lengthAdjust="spacingAndGlyphs">or</text>
<text x="161.68" y="575.60" font-size="10.3" font-weight="bold" fill="#d41830" textLength="22.22" lengthAdjust="spacingAndGlyphs">HGB</text>
<text x="187.31" y="575.60" font-size="10.3" font-weight="bold" fill="#d41830" textLength="44.83" lengthAdjust="spacingAndGlyphs">criterion</text>
<text x="284.29" y="575.60" font-size="10.3" font-weight="bold" fill="#d41830" textLength="20.96" lengthAdjust="spacingAndGlyphs">Met</text>
<text x="308.53" y="575.60" font-size="10.3" font-weight="bold" fill="#d41830" textLength="22.12" lengthAdjust="spacingAndGlyphs">HGB</text>
<text x="334.07" y="575.60" font-size="10.3" font-weight="bold" fill="#d41830" textLength="47.58" lengthAdjust="spacingAndGlyphs">criterion,</text>
<text x="384.97" y="575.60" font-size="10.3" font-weight="bold" fill="#d41830" textLength="17.27" lengthAdjust="spacingAndGlyphs">but</text>
<text x="405.87" y="575.60" font-size="10.3" font-weight="bold" fill="#d41830" textLength="17.16" lengthAdjust="spacingAndGlyphs">not</text>
<text x="426.97" y="575.60" font-size="10.3" font-weight="bold" fill="#d41830" textLength="24.86" lengthAdjust="spacingAndGlyphs">RCM</text>
<text x="454.96" y="575.60" font-size="10.3" font-weight="bold" fill="#d41830" textLength="44.83" lengthAdjust="spacingAndGlyphs">criterion</text>
<line x1="35.30" y1="508.20" x2="514.70" y2="508.20" stroke="#fcebee" stroke-width="3.6"/>
<line x1="36.40" y1="508.20" x2="513.60" y2="508.20" stroke="#b52a40" stroke-width="2.2" stroke-dasharray="2.2 2.550"/>
<line x1="274.30" y1="370.60" x2="274.30" y2="631.50" stroke="#fef1e4" stroke-width="3.2"/>
<line x1="274.30" y1="371.60" x2="274.30" y2="629.00" stroke="#c88a50" stroke-width="2.2" stroke-dasharray="2.2 2.200"/>
<circle cx="132.20" cy="477.20" r="3.55" fill="#e8101c" stroke="#9c0f1e" stroke-width="0.9"/>
<circle cx="160.10" cy="492.00" r="3.55" fill="#e8101c" stroke="#9c0f1e" stroke-width="0.9"/>
<circle cx="214.60" cy="476.80" r="3.55" fill="#e8101c" stroke="#9c0f1e" stroke-width="0.9"/>
<circle cx="269.10" cy="452.30" r="3.55" fill="#e8101c" stroke="#9c0f1e" stroke-width="0.9"/>
<circle cx="289.60" cy="439.20" r="3.55" fill="#e8101c" stroke="#9c0f1e" stroke-width="0.9"/>
<circle cx="289.50" cy="489.30" r="3.55" fill="#e8101c" stroke="#9c0f1e" stroke-width="0.9"/>
<circle cx="296.70" cy="493.00" r="3.55" fill="#e8101c" stroke="#9c0f1e" stroke-width="0.9"/>
<circle cx="303.40" cy="486.60" r="3.55" fill="#e8101c" stroke="#9c0f1e" stroke-width="0.9"/>
<circle cx="337.60" cy="462.50" r="3.55" fill="#e8101c" stroke="#9c0f1e" stroke-width="0.9"/>
<circle cx="344.20" cy="404.30" r="3.55" fill="#e8101c" stroke="#9c0f1e" stroke-width="0.9"/>
<circle cx="399.40" cy="496.40" r="3.55" fill="#e8101c" stroke="#9c0f1e" stroke-width="0.9"/>
<circle cx="413.00" cy="398.10" r="3.55" fill="#e8101c" stroke="#9c0f1e" stroke-width="0.9"/>
<circle cx="467.80" cy="389.50" r="3.55" fill="#e8101c" stroke="#9c0f1e" stroke-width="0.9"/>
<text x="162.26" y="357.70" font-size="13.4" font-weight="bold" fill="#000" textLength="32.08" lengthAdjust="spacingAndGlyphs" stroke="#000" stroke-width="0.15">RCM</text>
<text x="196.45" y="357.70" font-size="13.4" font-weight="bold" fill="#000" textLength="14.48" lengthAdjust="spacingAndGlyphs" stroke="#000" stroke-width="0.15">vs</text>
<text x="214.88" y="357.70" font-size="13.4" font-weight="bold" fill="#000" textLength="26.68" lengthAdjust="spacingAndGlyphs" stroke="#000" stroke-width="0.15">Hgb</text>
<text x="245.47" y="357.70" font-size="13.4" font-weight="bold" fill="#000" textLength="18.24" lengthAdjust="spacingAndGlyphs" stroke="#000" stroke-width="0.15">for</text>
<text x="269.25" y="357.70" font-size="13.4" font-weight="bold" fill="#000" textLength="45.64" lengthAdjust="spacingAndGlyphs" stroke="#000" stroke-width="0.15">female</text>
<text x="320.94" y="357.70" font-size="13.4" font-weight="bold" fill="#000" textLength="31.82" lengthAdjust="spacingAndGlyphs" stroke="#000" stroke-width="0.15">MPN</text>
<text x="357.25" y="357.70" font-size="13.4" font-weight="bold" fill="#000" textLength="55.23" lengthAdjust="spacingAndGlyphs" stroke="#000" stroke-width="0.15">Patients</text>
<text transform="translate(11.10,0) rotate(-90)" x="-562.06" y="0" font-size="13" font-weight="bold" fill="#000" textLength="9.24" lengthAdjust="spacingAndGlyphs">%</text>
<text transform="translate(11.10,0) rotate(-90)" x="-550.86" y="0" font-size="13" font-weight="bold" fill="#000" textLength="33.09" lengthAdjust="spacingAndGlyphs">mean</text>
<text transform="translate(11.10,0) rotate(-90)" x="-515.15" y="0" font-size="13" font-weight="bold" fill="#000" textLength="51.02" lengthAdjust="spacingAndGlyphs">expected</text>
<text transform="translate(11.10,0) rotate(-90)" x="-462.31" y="0" font-size="13" font-weight="bold" fill="#000" textLength="25.97" lengthAdjust="spacingAndGlyphs">RCM</text>
<text x="221.27" y="657.10" font-size="12.3" font-weight="bold" fill="#000" textLength="71.70" lengthAdjust="spacingAndGlyphs" stroke="#000" stroke-width="0.15">Hemoglobin</text>
<text x="296.23" y="657.10" font-size="12.3" font-weight="bold" fill="#000" textLength="32.73" lengthAdjust="spacingAndGlyphs" stroke="#000" stroke-width="0.15">(g/dl)</text>
<circle cx="51.7" cy="670.3" r="3.7" fill="#e8101c" stroke="#9c0f1e" stroke-width="0.9"/>
<text x="57.90" y="673.20" font-size="10" fill="#1a1a1a" textLength="57.60" lengthAdjust="spacingAndGlyphs" stroke="#1a1a1a" stroke-width="0.3">PV Patients</text>
</svg>
</body></html>
